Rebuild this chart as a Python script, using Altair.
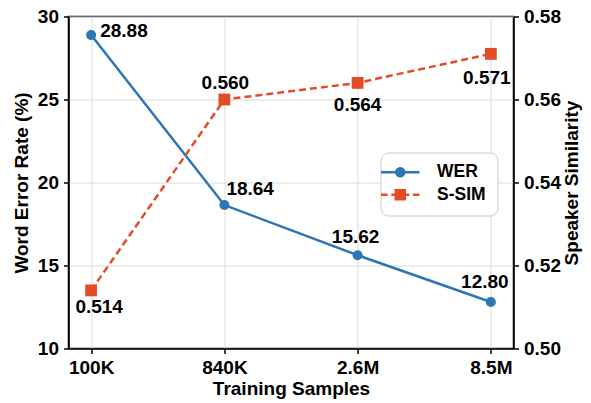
import altair as alt
import pandas as pd

SAMPLES = ["100K", "840K", "2.6M", "8.5M"]
WER = [28.88, 18.64, 15.62, 12.80]
SSIM = [0.514, 0.560, 0.564, 0.571]
SERIES = ["WER", "S-SIM"]

BLUE = "#2e75b6"
RED = "#e34c26"
FONT = "Liberation Sans"
FS = 19

# label styles (align, dx, dy) per point
WER_LABEL_STYLE = [("left", 9, -4), ("left", 2, -16), ("center", -2, -18), ("center", -6, -20)]
SSIM_LABEL_STYLE = [("center", 8, 17), ("center", 1, -17), ("center", 0, 22), ("center", -4, 24)]

df = pd.DataFrame({"sample": SAMPLES, "wer": WER, "ssim": SSIM})
legend_df = pd.DataFrame({"series": SERIES})

x_enc = alt.X(
    "sample:N",
    sort=SAMPLES,
    scale=alt.Scale(type="point", padding=0.17),
    axis=alt.Axis(title="Training Samples", labelAngle=0, grid=True, labelPadding=5, titlePadding=2),
)
y_left = alt.Y(
    "wer:Q",
    scale=alt.Scale(domain=[10, 30], nice=False, zero=False),
    axis=alt.Axis(title="Word Error Rate (%)", values=[10, 15, 20, 25, 30], grid=True,
                  labelPadding=5, titlePadding=6),
)
y_right = alt.Y(
    "ssim:Q",
    scale=alt.Scale(domain=[0.50, 0.58], nice=False, zero=False),
    axis=alt.Axis(title="Speaker Similarity", orient="right", values=[0.50, 0.52, 0.54, 0.56, 0.58],
                  format=".2f", grid=False, labelPadding=5, titlePadding=2, titleAngle=270,
                  titleBaseline="top"),
)

base = alt.Chart(df)

wer_line = base.mark_line(color=BLUE, strokeWidth=2.5).encode(x=x_enc, y=y_left)
wer_pts = base.mark_point(filled=True, size=100, color=BLUE, opacity=1).encode(x=x_enc, y=y_left)
wer_texts = [
    base.transform_filter(alt.datum.sample == s).mark_text(
        align=a, baseline="middle", dx=dx, dy=dy, font=FONT, fontWeight="bold", fontSize=FS, color="black"
    ).encode(x=x_enc, y=y_left, text=alt.Text("wer:Q", format=".2f"))
    for s, (a, dx, dy) in zip(SAMPLES, WER_LABEL_STYLE)
]

ssim_line = base.mark_line(color=RED, strokeWidth=2.5, strokeDash=[7, 4]).encode(x=x_enc, y=y_right)
ssim_pts = base.mark_point(filled=True, shape="square", size=140, color=RED, opacity=1).encode(x=x_enc, y=y_right)
ssim_texts = [
    base.transform_filter(alt.datum.sample == s).mark_text(
        align=a, baseline="middle", dx=dx, dy=dy, font=FONT, fontWeight="bold", fontSize=FS, color="black"
    ).encode(x=x_enc, y=y_right, text=alt.Text("ssim:Q", format=".3f"))
    for s, (a, dx, dy) in zip(SAMPLES, SSIM_LABEL_STYLE)
]

PATH_WER = "M-3.2,0H3.2M0.67,0A0.67,0.67,0,1,1,-0.67,0A0.67,0.67,0,1,1,0.67,0Z"
PATH_SSIM = "M-3.2,0H-2.1M-1.5,0H-0.8M0.8,0H1.5M2.1,0H3.2M-0.75,-0.75H0.75V0.75H-0.75Z"

leg = alt.Legend(
    title=None, orient="none", legendX=312, legendY=136,
    labelFont=FONT, labelFontWeight="bold", labelFontSize=17.5, labelColor="black",
    symbolSize=144, symbolStrokeWidth=2.5, labelOffset=28, rowPadding=3.5,
    padding=11, strokeColor="#c8c8c8", fillColor="white", cornerRadius=8,
)
legend_layer = alt.Chart(legend_df).transform_filter("false").mark_point(filled=True, opacity=1).encode(
    fill=alt.Fill("series:N", scale=alt.Scale(domain=SERIES, range=[BLUE, RED]), legend=leg),
    stroke=alt.Stroke("series:N", scale=alt.Scale(domain=SERIES, range=[BLUE, RED]), legend=leg),
    shape=alt.Shape("series:N", scale=alt.Scale(domain=SERIES, range=[PATH_WER, PATH_SSIM]), legend=leg),
)

left = alt.layer(wer_line, wer_pts, *wer_texts)
right = alt.layer(ssim_line, ssim_pts, *ssim_texts)

chart = alt.layer(left, right, legend_layer).resolve_scale(y="independent").properties(
    width=445, height=332,
    autosize=alt.AutoSizeParams(type="none"),
    padding={"left": 60.5, "top": 8.5, "right": 69.5, "bottom": 56},
).configure_axis(
    labelFont=FONT, labelFontWeight="bold", labelFontSize=FS, labelColor="black",
    titleFont=FONT, titleFontWeight="bold", titleFontSize=FS, titleColor="black",
    domainColor="black", domainWidth=1.5, tickColor="black", tickWidth=1.5, tickSize=5,
    gridColor="#dcdcdc", gridWidth=1,
).configure_view(stroke="black", strokeWidth=1.5)

chart.save("out.html", embed_options={"renderer": "svg", "actions": False})
